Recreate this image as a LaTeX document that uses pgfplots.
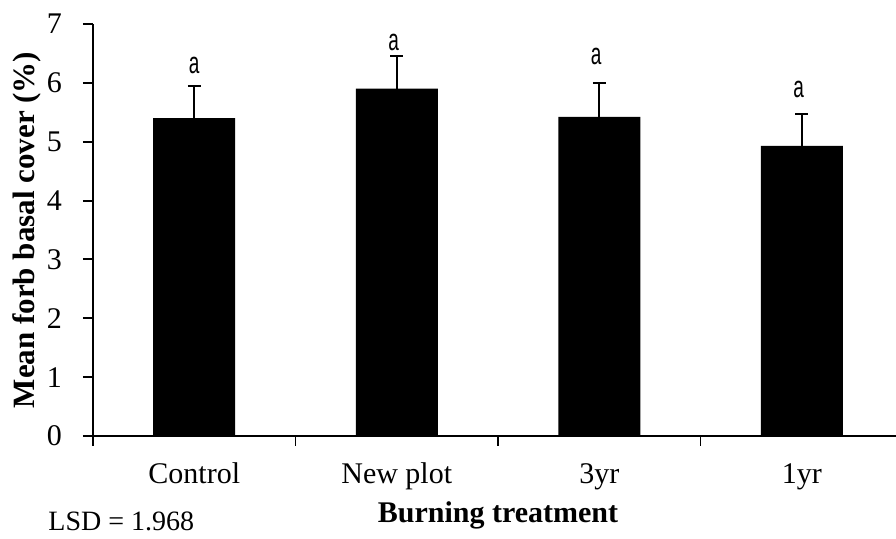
\documentclass[border=0pt]{standalone}
\usepackage{fontspec}
\setmainfont{Liberation Serif}
\newfontfamily\arialfont{Liberation Sans}
\usepackage{pgfplots}
\pgfplotsset{compat=1.18}

\begin{document}
\begin{tikzpicture}
\begin{axis}[
  at={(0,0)}, anchor=south west,
  scale only axis, width=401.5pt, height=206pt,
  xmin=-0.5, xmax=3.4654, ymin=0, ymax=7,
  axis lines*=left,
  axis line style={line width=1pt, -},
  tick align=outside, major tick length=5pt,
  ytick={0,...,7},
  y tick style={line width=1pt, black},
  yticklabel style={xshift=-7pt},
  x tick style={line width=0.6pt, black},
  xtick={-0.5,0.5,1.5,2.5,3.5}, xticklabels={},
  extra x ticks={0,1,2,3},
  extra x tick labels={Control,New plot,3yr,1yr},
  extra x tick style={major tick length=0pt,
    tick label style={anchor=base, yshift=-24pt}},
  /pgf/number format/assume math mode=true,
  tick label style={font=\fontsize{15}{18}\selectfont},
  xlabel={Burning treatment},
  xlabel style={at={(axis cs:1.5,0)}, anchor=base, yshift=-43.5pt,
    font=\bfseries\fontsize{15}{18}\selectfont},
  ylabel={Mean forb basal cover (\%)},
  ylabel style={at={([xshift=-29pt]rel axis cs:0,0.5)}, anchor=base,
    font=\bfseries\fontsize{15.5}{18}\selectfont},
  clip=false,
]
\addplot[ybar, bar width=41pt, fill=black, draw=none,
  error bars/.cd, y dir=plus, y explicit, error mark=|,
  error bar style={line width=1.2pt, black},
  error mark options={line width=1.2pt, mark size=3.25pt, black}]
  coordinates {
    (0,5.40) +- (0,0.55)
    (1,5.90) +- (0,0.56)
    (2,5.42) +- (0,0.58)
    (3,4.93) +- (0,0.54)
  };
% significance letters
\node[font=\arialfont\fontsize{9.5}{10}\selectfont, yscale=1.6] at (axis cs:0,6.30) {a};
\node[font=\arialfont\fontsize{9.5}{10}\selectfont, yscale=1.6] at (axis cs:0.985,6.685) {a};
\node[font=\arialfont\fontsize{9.5}{10}\selectfont, yscale=1.6] at (axis cs:1.985,6.45) {a};
\node[font=\arialfont\fontsize{9.5}{10}\selectfont, yscale=1.6] at (axis cs:2.985,5.89) {a};
\end{axis}
\node[anchor=base west, font=\fontsize{14}{16}\selectfont, inner sep=0pt] at (-22.5pt,-47.5pt) {LSD = 1.968};
\pgfresetboundingbox
\path (-46.5pt,-51.5pt) rectangle (401.5pt,218pt);
\end{tikzpicture}
\end{document}
